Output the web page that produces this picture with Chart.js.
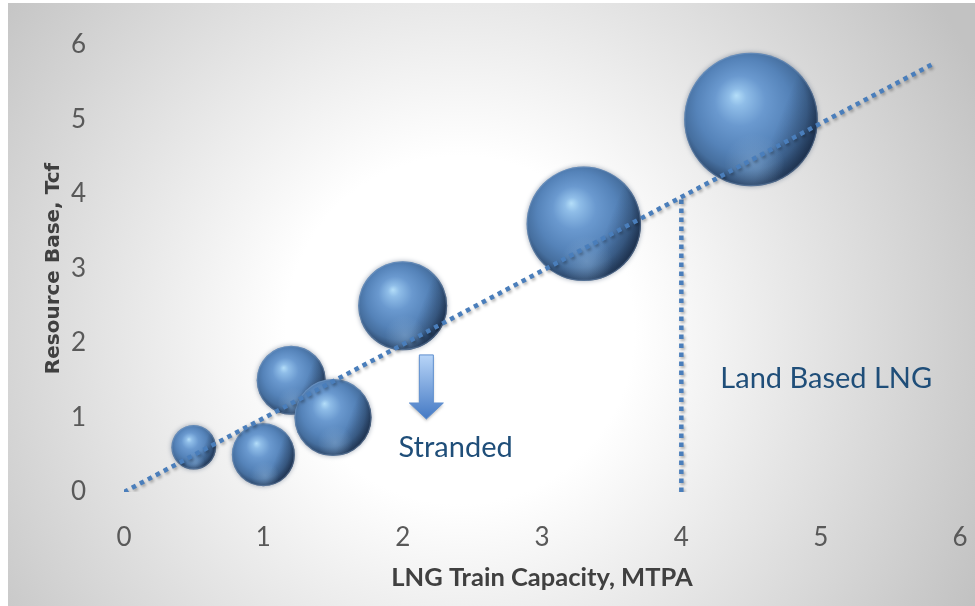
<!DOCTYPE html>
<html>
<head>
<meta charset="utf-8">
<script src="https://cdn.jsdelivr.net/npm/chart.js@4.4.1/dist/chart.umd.min.js"></script>
<style>
  html, body { margin: 0; padding: 0; background: #fff; }
  #wrap { width: 975px; height: 606px; }
</style>
</head>
<body>
<div id="wrap"><canvas id="chart" width="975" height="606"></canvas></div>
<script>
// bubbles: LNG train capacity (MTPA) vs resource base (Tcf), bubble size = capacity
const capacity = [0.5, 1.0, 1.2, 1.5, 2.0, 3.3, 4.5];
const resource = [0.6, 0.5, 1.5, 1.0, 2.5, 3.6, 5.0];
const bubbleSize = [0.5, 1.0, 1.2, 1.5, 2.0, 3.3, 4.5];

// dotted trend line + land based cut-off line
const trendX = [0, 5.82];
const trendY = [0, 5.76];
const cutoffX = [4, 4];
const cutoffY = [0, 3.96];

// axis ranges
const xRange = [0, 6];
const yRange = [0, 6];

// annotations (data coords)
const notes = [
  {text: 'Stranded', x: 2.38, y: 0.6},
  {text: 'Land Based LNG', x: 5.04, y: 1.52}
];
const arrow = {x: 2.17, top: 1.84, tip: 0.98};

const BLUE = '#4a7ebb';
const pxPerSize = 31.5; // radius = k * sqrt(size)

function drawSphere(ctx, x, y, r) {
  ctx.save();
  ctx.beginPath();
  ctx.arc(x, y, r, 0, Math.PI * 2);
  ctx.shadowColor = 'rgba(60,80,110,0.5)';
  ctx.shadowBlur = 5;
  const g = ctx.createRadialGradient(x - 0.22 * r, y - 0.36 * r, 0, x - 0.06 * r, y - 0.12 * r, r * 1.08);
  g.addColorStop(0, '#b4def9');
  g.addColorStop(0.12, '#8fbde8');
  g.addColorStop(0.35, '#6a99cf');
  g.addColorStop(0.65, '#5583b9');
  g.addColorStop(0.85, '#466f9f');
  g.addColorStop(1, '#2e4a6e');
  ctx.fillStyle = g;
  ctx.fill();
  ctx.shadowBlur = 0;
  ctx.shadowColor = 'transparent';
  ctx.clip();

  // dark right side
  const g2 = ctx.createLinearGradient(x - r, y - 0.4 * r, x + r, y + 0.4 * r);
  g2.addColorStop(0, 'rgba(10,20,40,0)');
  g2.addColorStop(0.68, 'rgba(10,20,40,0)');
  g2.addColorStop(1, 'rgba(10,20,40,0.5)');
  ctx.fillStyle = g2;
  ctx.fillRect(x - r, y - r, 2 * r, 2 * r);

  // reflection at the bottom
  const g3 = ctx.createRadialGradient(x + 0.05 * r, y + 0.66 * r, 0, x + 0.05 * r, y + 0.66 * r, 0.45 * r);
  g3.addColorStop(0, 'rgba(150,185,220,0.4)');
  g3.addColorStop(1, 'rgba(150,185,220,0)');
  ctx.fillStyle = g3;
  ctx.fillRect(x - r, y - r, 2 * r, 2 * r);

  // soft rim
  ctx.beginPath();
  ctx.arc(x, y, r - 0.5, 0, Math.PI * 2);
  ctx.strokeStyle = 'rgba(150,180,215,0.3)';
  ctx.lineWidth = 1.5;
  ctx.stroke();
  ctx.restore();
}

const bgPlugin = {
  id: 'bg',
  beforeDraw(chart) {
    const {ctx, width, height} = chart;
    ctx.save();
    ctx.fillStyle = '#ffffff';
    ctx.fillRect(0, 0, width, height);
    const g = ctx.createRadialGradient(460, 330, 0, 460, 330, 580);
    g.addColorStop(0, '#ffffff');
    g.addColorStop(0.3, '#ffffff');
    g.addColorStop(1, '#c2c2c2');
    ctx.fillStyle = g;
    ctx.fillRect(8, 3, width - 8, height - 3);
    ctx.restore();
  }
};

const markPlugin = {
  id: 'marks',
  beforeDatasetDraw(chart, args) {
    if (args.meta.type === 'line') {
      const ctx = chart.ctx;
      ctx.save();
      ctx.shadowColor = 'rgba(0,0,0,0.3)';
      ctx.shadowBlur = 3;
      ctx.shadowOffsetX = 1.5;
      ctx.shadowOffsetY = 2;
    }
  },
  afterDatasetDraw(chart, args) {
    const ctx = chart.ctx;
    if (args.meta.type === 'line') {
      ctx.restore();
      return;
    }
    args.meta.data.forEach(el => drawSphere(ctx, el.x, el.y, el.options.radius));
  },
  afterDatasetsDraw(chart) {
    const {ctx, scales: {x, y}} = chart;
    ctx.save();
    // arrow
    const ax = x.getPixelForValue(arrow.x);
    const at = y.getPixelForValue(arrow.top);
    const ab = y.getPixelForValue(arrow.tip);
    const headH = 16, shaftW = 14, headW = 34;
    ctx.beginPath();
    ctx.moveTo(ax - shaftW / 2, at);
    ctx.lineTo(ax + shaftW / 2, at);
    ctx.lineTo(ax + shaftW / 2, ab - headH);
    ctx.lineTo(ax + headW / 2, ab - headH);
    ctx.lineTo(ax, ab);
    ctx.lineTo(ax - headW / 2, ab - headH);
    ctx.lineTo(ax - shaftW / 2, ab - headH);
    ctx.closePath();
    const ag = ctx.createLinearGradient(0, at, 0, ab);
    ag.addColorStop(0, '#b8d5f8');
    ag.addColorStop(1, '#4479c4');
    ctx.shadowColor = 'rgba(0,0,0,0.25)';
    ctx.shadowBlur = 3;
    ctx.shadowOffsetY = 2;
    ctx.fillStyle = ag;
    ctx.fill();
    ctx.shadowColor = 'transparent';
    ctx.strokeStyle = '#5f8fcf';
    ctx.lineWidth = 1;
    ctx.stroke();

    // texts
    ctx.fillStyle = '#1f4e79';
    ctx.font = '29px Lato';
    ctx.textAlign = 'center';
    ctx.textBaseline = 'middle';
    notes.forEach(n => ctx.fillText(n.text, x.getPixelForValue(n.x), y.getPixelForValue(n.y)));
    ctx.restore();
  }
};

function build() {
  new Chart(document.getElementById('chart'), {
    type: 'bubble',
    data: {
      datasets: [
        {
          type: 'bubble',
          order: 2,
          clip: false,
          data: capacity.map((c, i) => ({x: c, y: resource[i], r: pxPerSize * Math.sqrt(bubbleSize[i])})),
          backgroundColor: 'rgba(0,0,0,0)',
          borderWidth: 0
        },
        {
          type: 'line',
          order: 1,
          data: trendX.map((v, i) => ({x: v, y: trendY[i]})),
          borderColor: BLUE,
          borderWidth: 4.5,
          borderDash: [4.5, 4.5],
          pointRadius: 0,
          fill: false
        },
        {
          type: 'line',
          order: 1,
          data: cutoffX.map((v, i) => ({x: v, y: cutoffY[i]})),
          borderColor: BLUE,
          borderWidth: 4.5,
          borderDash: [4.5, 4.5],
          pointRadius: 0,
          fill: false
        }
      ]
    },
    options: {
      responsive: false,
      animation: false,
      devicePixelRatio: 1,
      layout: {autoPadding: false, padding: {top: 45, right: 15, left: 0, bottom: 0}},
      plugins: {legend: {display: false}, tooltip: {enabled: false}},
      scales: {
        x: {
          type: 'linear',
          min: xRange[0], max: xRange[1],
          grid: {display: false},
          border: {display: false},
          ticks: {stepSize: 1, color: '#595959', font: {family: 'Lato', size: 26}, padding: 22},
          title: {
            display: true, text: 'LNG Train Capacity, MTPA', color: '#404040',
            font: {family: 'Lato', size: 25.5, weight: 'bold'}, padding: {top: 0, bottom: 13}
          },
          afterFit(s) { s.height = 114; s.paddingLeft = 0; s.paddingRight = 0; }
        },
        y: {
          type: 'linear',
          min: yRange[0], max: yRange[1],
          grid: {display: false},
          border: {display: false},
          ticks: {stepSize: 1, color: '#595959', font: {family: 'Lato', size: 26}, padding: 30},
          title: {
            display: true, text: 'Resource Base, Tcf', color: '#404040',
            font: {family: 'DejaVu Sans', size: 20, weight: 'bold'}, padding: {top: 42, bottom: 0}
          },
          afterFit(s) { s.width = 124; s.paddingTop = 0; s.paddingBottom = 0; }
        }
      }
    },
    plugins: [bgPlugin, markPlugin]
  });
}

Promise.all([
  document.fonts.load('26px Lato'),
  document.fonts.load('bold 25px Lato'),
  document.fonts.load('bold 20px "DejaVu Sans"')
]).then(build, build);
</script>
</body>
</html>
